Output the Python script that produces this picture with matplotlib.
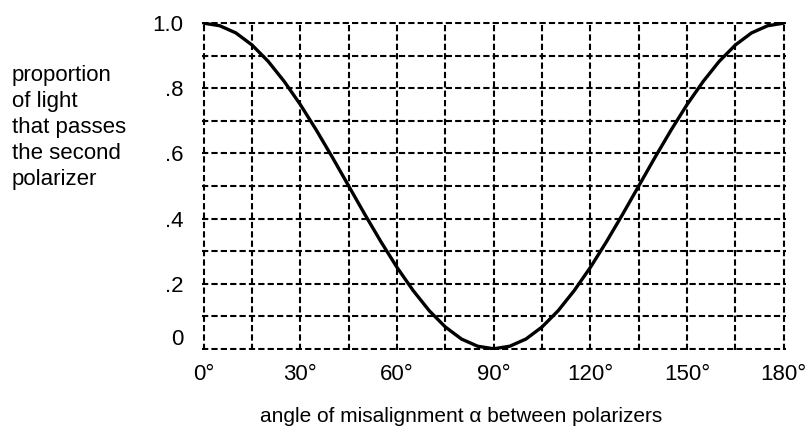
import matplotlib
matplotlib.use("Agg")
import matplotlib.pyplot as plt
import matplotlib.transforms as mtransforms

plt.rcParams['font.family'] = ['Liberation Sans', 'DejaVu Sans']

# angle of misalignment (deg) and proportion of light passed
angle = [0, 5, 10, 15, 20, 25, 30, 35, 40, 45, 50, 55, 60, 65, 70, 75, 80, 85, 90,
         95, 100, 105, 110, 115, 120, 125, 130, 135, 140, 145, 150, 155, 160, 165,
         170, 175, 180]
proportion = [1.000, 0.992, 0.970, 0.933, 0.883, 0.821, 0.750, 0.671, 0.587, 0.500,
              0.413, 0.329, 0.250, 0.179, 0.117, 0.067, 0.030, 0.008, 0.000,
              0.008, 0.030, 0.067, 0.117, 0.179, 0.250, 0.329, 0.413, 0.500,
              0.587, 0.671, 0.750, 0.821, 0.883, 0.933, 0.970, 0.992, 1.000]

xtick_vals = [0, 30, 60, 90, 120, 150, 180]
xtick_labels = ['0°', '30°', '60°', '90°', '120°', '150°', '180°']
ytick_vals = [0, 0.2, 0.4, 0.6, 0.8, 1.0]
ytick_labels = ['0', '.2', '.4', '.6', '.8', '1.0']
xgrid_minor = [15, 45, 75, 105, 135, 165]
ygrid_minor = [0.1, 0.3, 0.5, 0.7, 0.9]

fs = 16

fig = plt.figure(figsize=(8.1, 4.28), dpi=100)
ax = fig.add_axes([0.249, 0.182, 0.721, 0.767])

ax.plot(angle, proportion, color='black', lw=2.4, zorder=3, solid_capstyle='round',
        solid_joinstyle='round')

ax.set_xlim(-0.6, 180.6)
ax.set_ylim(-0.004, 1.004)
ax.set_xticks(xtick_vals)
ax.set_xticklabels(xtick_labels, fontsize=fs)
ax.set_xticks(xgrid_minor, minor=True)
ax.set_yticks(ytick_vals)
ax.set_yticklabels(ytick_labels, fontsize=fs)
ax.set_yticks(ygrid_minor, minor=True)
ax.tick_params(which='both', length=0)
ax.tick_params(axis='x', pad=10)
ax.tick_params(axis='y', pad=13)

dash = (0, (3, 1.5))
ax.grid(True, which='both', color='black', lw=1.5, linestyle=dash)
for s in ax.spines.values():
    s.set_visible(False)

# the "0" label sits a little above its grid line
zero_lbl = ax.get_yticklabels()[0]
zero_lbl.set_transform(zero_lbl.get_transform() +
                       mtransforms.ScaledTranslation(0, 12 / 100, fig.dpi_scale_trans))

fig.text(12 / 810, 1 - 127.5 / 428,
         'proportion\nof light\nthat passes\nthe second\npolarizer',
         ha='left', va='center', fontsize=fs, linespacing=1.3)
fig.text(461 / 810, 1 - 417 / 428, 'angle of misalignment α between polarizers',
         ha='center', va='center', fontsize=15)

fig.savefig('out.png', dpi=100)
